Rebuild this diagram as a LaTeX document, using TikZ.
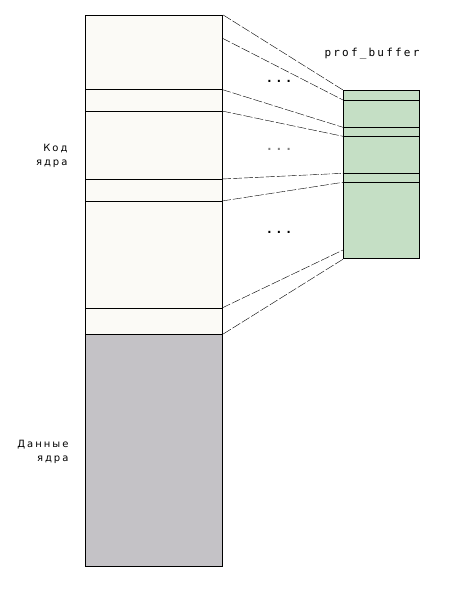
\documentclass[tikz,border=0pt]{standalone}
\usepackage{fontspec}
\setmainfont{DejaVu Sans}[LetterSpace=20]
\setmonofont{DejaVu Sans Mono}[LetterSpace=20]
\definecolor{codefill}{HTML}{FBFAF6}
\definecolor{datafill}{HTML}{C4C2C6}
\definecolor{buffill}{HTML}{C5DFC5}

\begin{document}
\begin{tikzpicture}[x=1pt,y=-1pt]
	\tikzset{segment/.style={draw,line width=1.2pt,inner sep=0pt,minimum width=137pt,anchor=north west},
		link/.style={line width=.4pt,dash pattern=on 9pt off 2pt},
		dots/.style={font=\fontsize{12}{14}\ttfamily\bfseries},
		label/.style={font=\fontsize{10}{14}\selectfont,align=right,anchor=east}}
	\useasboundingbox (0,0) rectangle (458,598);
	% kernel image
	\node[segment,fill=codefill,minimum height=319pt] (code) at (85,15) {};
	\node[segment,fill=datafill,minimum height=232pt] (data) at (85,334) {};
	\foreach \n/\y in {1/89.5,2/111,3/179,4/201,5/308}
		{\draw[line width=.8pt] (85,\y) -- (222,\y) coordinate (c\n);}
	\coordinate (c0) at (222,38);
	% profile buffer
	\node[segment,fill=buffill,minimum width=76pt,minimum height=168pt] (buf) at (343,90) {};
	\foreach \n/\y in {1/100,2/127.3,3/136.3,4/173.3,5/182.3}
		{\draw[line width=.8pt] (343,\y) coordinate (b\n) -- (419,\y);}
	\coordinate (b6) at (343,250);
	\node[font=\fontsize{11}{13}\ttfamily] (title) at (372,54) {prof\_buffer};
	% mapping
	\draw[link] (code.north east) -- (buf.north west);
	\draw[link] (c0) -- (b1);
	\draw[link] (c1) -- (b2);
	\draw[link] (c2) -- (b3);
	\draw[link] (c3) -- (b4);
	\draw[link] (c4) -- (b5);
	\draw[link] (c5) -- (b6);
	\draw[link] (data.north east) -- (buf.south west);
	\node[dots] (dotsa) at (279,81) {...};
	\node[dots,text=gray] (dotsb) at (279,149) {...};
	\node[dots] (dotsc) at (279,232) {...};
	\node[label] (codelabel) at (71,156) {Код\\ядра};
	\node[label] (datalabel) at (72,452) {Данные\\ядра};
\end{tikzpicture}
\end{document}
